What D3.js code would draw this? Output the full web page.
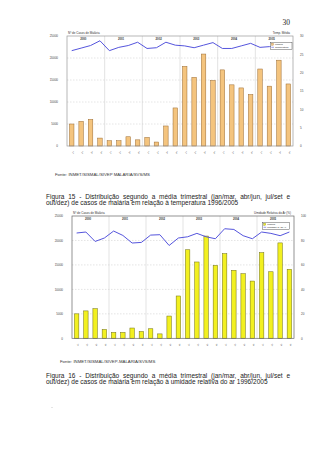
<!DOCTYPE html>
<html>
<head>
<meta charset="utf-8">
<script src="https://cdn.jsdelivr.net/npm/d3@7"></script>
<style>
  body { margin: 0; background: #fff; }
  text { font-family: "Liberation Sans", Arial, sans-serif; }
</style>
</head>
<body>
<div id="page"></div>
<script>
// data
const years = ["2000", "2001", "2002", "2003", "2004", "2005"]
const quarters = ["1º", "2º", "3º", "4º"]
const cases = [5000, 5600, 6050, 1800, 1200, 1200, 2100, 1400, 1950, 900, 4550, 8650,
  18100, 15600, 20900, 14900, 17300, 13900, 13200, 11700, 17500, 13600, 19500, 14100]
const temperature = [26.0, 26.7, 27.4, 28.7, 26.0, 26.9, 27.4, 28.3, 26.6, 26.8, 28.3, 27.5,
  27.3, 26.8, 27.5, 28.2, 26.6, 26.6, 27.3, 28.0, 26.9, 27.1, 27.4, 27.5]
const humidity = [86.1, 86.9, 79.2, 82.0, 87.7, 84.1, 77.9, 78.4, 84.4, 84.7, 75.9, 82.0,
  83.0, 85.8, 83.0, 81.4, 89.6, 89.0, 83.9, 81.4, 86.9, 85.8, 83.9, 86.9]
const casesTicks = [0, 5000, 10000, 15000, 20000, 25000]
const tempTicks = [0, 5, 10, 15, 20, 25, 30]
const humidTicks = [0, 20, 40, 60, 80, 100]

const slots = years.flatMap(y => quarters.map(q => y + "|" + q))

let svg = d3.select("#page").append("svg")
  .attr("width", 320).attr("height", 453)

// page number
svg.append("text").attr("x", 290).attr("y", 25).attr("text-anchor", "end")
  .style("font-family", "'Liberation Serif', serif").style("font-size", "7.5px")
  .style("fill", "#222").text("30")

// justified line: spread the words across the given width
function justified(txt, x0, y0, width, size) {
  let t = svg.append("text").attr("x", x0).attr("y", y0)
    .style("font-size", size + "px").style("fill", "#222").text(txt)
  let gaps = txt.split(" ").length - 1
  let extra = (width - t.node().getComputedTextLength()) / gaps
  t.style("word-spacing", extra + "px")
}

function draw_chart(o) {
  let g = svg.append("g")
  let x = d3.scaleBand().domain(slots).range([o.left, o.right]).paddingInner(0.52).paddingOuter(0.26)
  let y = d3.scaleLinear().domain([0, 25000]).range([o.bottom, o.top])
  let y2 = d3.scaleLinear().domain([0, o.rightMax]).range([o.bottom, o.top])
  let step = (o.right - o.left) / slots.length

  // dashed grid
  g.selectAll(".grid").data(casesTicks.slice(1, -1)).enter().append("line")
    .attr("x1", o.left).attr("x2", o.right)
    .attr("y1", d => y(d)).attr("y2", d => y(d))
    .attr("stroke", "#c8c8c8").attr("stroke-width", 0.5).attr("stroke-dasharray", "1.5,1.5")

  // year dividers
  g.selectAll(".div").data(years.slice(1)).enter().append("line")
    .attr("x1", (d, i) => o.left + step * 4 * (i + 1)).attr("x2", (d, i) => o.left + step * 4 * (i + 1))
    .attr("y1", o.top).attr("y2", o.bottom)
    .attr("stroke", "#d0d0d0").attr("stroke-width", 0.6)

  g.selectAll(".year").data(years).enter().append("text")
    .attr("x", (d, i) => o.left + step * 4 * (i + 0.5) - 2.5)
    .attr("y", o.top + 4)
    .attr("text-anchor", "middle").style("font-size", "2.8px").style("font-weight", "bold")
    .style("fill", "#333").text(d => d)

  // bars
  g.selectAll(".bar").data(cases).enter().append("rect")
    .attr("x", (d, i) => x(slots[i]))
    .attr("y", d => y(d))
    .attr("width", x.bandwidth())
    .attr("height", d => o.bottom - y(d))
    .attr("fill", o.barFill).attr("stroke", o.barStroke).attr("stroke-width", 0.5)

  // line
  let line = d3.line()
    .x((d, i) => x(slots[i]) + x.bandwidth() / 2)
    .y(d => y2(d))
  g.append("path").datum(o.lineData).attr("d", line)
    .attr("fill", "none").attr("stroke", "#5555dd").attr("stroke-width", 1)

  // frame
  g.append("rect").attr("x", o.left).attr("y", o.top)
    .attr("width", o.right - o.left).attr("height", o.bottom - o.top)
    .attr("fill", "none").attr("stroke", o.frame).attr("stroke-width", 0.7)

  // axes
  let left = g.append("g").attr("transform", "translate(" + (o.left - 6) + ",0)")
    .call(d3.axisLeft(y).tickValues(casesTicks).tickSize(0).tickFormat(d3.format("d")))
  let right = g.append("g").attr("transform", "translate(" + (o.right + 4) + ",0)")
    .call(d3.axisRight(y2).tickValues(o.rightTicks).tickSize(0))
  let bottom = g.append("g").attr("transform", "translate(0," + (o.bottom + 3) + ")")
    .call(d3.axisBottom(x).tickSize(0).tickFormat(d => d.split("|")[1]))
  ;[left, right, bottom].forEach(a => {
    a.select(".domain").remove()
    a.selectAll("text").style("font-size", "3px").attr("fill", "#444")
  })
  bottom.selectAll("text").attr("transform", "rotate(-45)").attr("dy", "0.6em").attr("dx", "-0.2em")
    .style("text-anchor", "end").style("font-size", "2.4px")

  // axis titles
  g.append("text").attr("x", o.left + 1).attr("y", o.top - 2.5)
    .style("font-size", "3px").style("fill", "#333").text("Nº de Casos de Malária")
  g.append("text").attr("x", o.right - 3).attr("y", o.top - 2.5).attr("text-anchor", "end")
    .style("font-size", "3px").style("fill", "#333").text(o.rightTitle)

  // legend
  let lg = g.append("g").attr("transform", "translate(" + o.legendX + "," + o.legendY + ")")
  lg.append("rect").attr("width", o.legendW).attr("height", 7)
    .attr("fill", "#fff").attr("stroke", "#333").attr("stroke-width", 0.4)
  lg.append("rect").attr("x", 1).attr("y", 1).attr("width", 2).attr("height", 2)
    .attr("fill", o.barFill).attr("stroke", o.barStroke).attr("stroke-width", 0.3)
  lg.append("line").attr("x1", 0.8).attr("x2", 3.5).attr("y1", 5).attr("y2", 5)
    .attr("stroke", "#5555dd").attr("stroke-width", 0.6)
  lg.append("text").attr("x", 4.5).attr("y", 3).style("font-size", "2.4px").style("fill", "#222").text("Malária")
  lg.append("text").attr("x", 4.5).attr("y", 6).style("font-size", "2.4px").style("fill", "#222").text(o.legendLine)

  // source
  svg.append("text").attr("x", o.sourceX).attr("y", o.sourceY)
    .style("font-size", "4.3px").style("fill", "#333").text(o.source)

  // caption, first line justified
  justified(o.caption[0], 46, o.captionY, 244, 6.5)
  svg.append("text").attr("x", 46).attr("y", o.captionY + 6.6)
    .style("font-size", "6.5px").style("fill", "#222").text(o.caption[1])
}

draw_chart({
  left: 67, right: 293, top: 36, bottom: 146,
  barFill: "#f4c47e", barStroke: "#9a6a30", frame: "#999",
  lineData: temperature, rightMax: 30, rightTicks: tempTicks,
  rightTitle: "Temp. Média", legendLine: "Temperatura",
  legendX: 270.5, legendY: 42.3, legendW: 21.5,
  source: "Fonte: INMET/SISMAL/SIVEP MALÁRIA/SVS/MS", sourceX: 55, sourceY: 176,
  captionY: 198.5,
  caption: ["Figura 15 - Distribuição segundo a média trimestral (jan/mar, abr/jun, jul/set e",
    "out/dez) de casos de malária em relação à temperatura 1996/2005"]
})

draw_chart({
  left: 72, right: 294, top: 216, bottom: 338.3,
  barFill: "#f2f020", barStroke: "#6e6e10", frame: "#666",
  lineData: humidity, rightMax: 100, rightTicks: humidTicks,
  rightTitle: "Umidade Relativa do Ar (%)", legendLine: "Umidade R. do Ar",
  legendX: 262.7, legendY: 222.3, legendW: 26.5,
  source: "Fonte: INMET/SISMAL/SIVEP-MALÁRIA/SVS/MS", sourceX: 60, sourceY: 363,
  captionY: 377.5,
  caption: ["Figura 16 - Distribuição segundo a média trimestral (jan/mar, abr/jun, jul/set e",
    "out/dez) de casos de malária em relação à umidade relativa do ar 1996/2005"]
})

// stray mark on the page
svg.append("circle").attr("cx", 52).attr("cy", 407.5).attr("r", 0.5).attr("fill", "#bbb")
</script>
</body>
</html>
